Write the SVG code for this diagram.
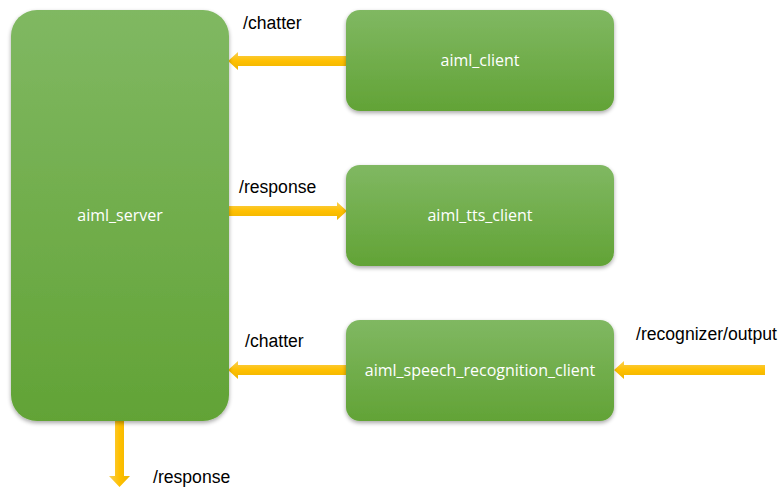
<svg xmlns="http://www.w3.org/2000/svg" width="783" height="497" viewBox="0 0 783 497">
<defs>
<linearGradient id="g" x1="0" y1="0" x2="0" y2="1">
<stop offset="0" stop-color="#80B862"/>
<stop offset="1" stop-color="#62A336"/>
</linearGradient>
<linearGradient id="ah" x1="0" y1="0" x2="0" y2="1">
<stop offset="0" stop-color="#F8CF55"/>
<stop offset="0.5" stop-color="#FFC000"/>
<stop offset="1" stop-color="#EDB400"/>
</linearGradient>
<linearGradient id="av" x1="0" y1="0" x2="1" y2="0">
<stop offset="0" stop-color="#F8CF55"/>
<stop offset="0.5" stop-color="#FFC000"/>
<stop offset="1" stop-color="#EDB400"/>
</linearGradient>
<filter id="sh" x="-10%" y="-10%" width="120%" height="125%">
<feGaussianBlur in="SourceAlpha" stdDeviation="2"/>
<feOffset dx="0" dy="2" result="b"/>
<feComponentTransfer><feFuncA type="linear" slope="0.35"/></feComponentTransfer>
<feMerge><feMergeNode/><feMergeNode in="SourceGraphic"/></feMerge>
</filter>
</defs>
<style>
.box{fill:url(#g);filter:url(#sh)}
.nt{font-family:"Open Sans","Liberation Sans",sans-serif;font-size:16px;fill:#FFFFFF;text-anchor:middle}
.lb{font-family:"Liberation Sans",Arial,sans-serif;font-size:17.6px;fill:#000000}
.ah{fill:url(#ah)}
.av{fill:url(#av)}
</style>
<g id="connectors">
<path class="ah" d="M346 56 L238 56 L238 52 L228 61 L238 70 L238 66 L346 66 Z"/>
<path class="ah" d="M229 206 L337 206 L337 202 L347 211 L337 220 L337 216 L229 216 Z"/>
<path class="ah" d="M346 365 L238 365 L238 361 L228 370 L238 379 L238 375 L346 375 Z"/>
<path class="ah" d="M765 365 L624 365 L624 361 L614 370 L624 379 L624 375 L765 375 Z"/>
<path class="av" d="M115 421 L115 476 L109 476 L119.5 487 L130 476 L124 476 L124 421 Z"/>
<text class="lb" x="243" y="29">/chatter</text>
<text class="lb" x="239" y="193">/response</text>
<text class="lb" x="245" y="347">/chatter</text>
<text class="lb" x="636" y="340">/recognizer/output</text>
<text class="lb" x="153" y="483">/response</text>
</g>
<g id="aiml_server">
<rect class="box" x="11" y="10" width="218" height="411" rx="26" ry="26"/>
<text class="nt" x="120" y="221">aiml_server</text>
</g>
<g id="aiml_client">
<rect class="box" x="346" y="10" width="268" height="101" rx="14" ry="14"/>
<text class="nt" x="480" y="66">aiml_client</text>
</g>
<g id="aiml_tts_client">
<rect class="box" x="346" y="165" width="268" height="101" rx="14" ry="14"/>
<text class="nt" x="480" y="221">aiml_tts_client</text>
</g>
<g id="aiml_speech_recognition_client">
<rect class="box" x="346" y="320" width="268" height="101" rx="14" ry="14"/>
<text class="nt" x="480" y="376">aiml_speech_recognition_client</text>
</g>
</svg>
